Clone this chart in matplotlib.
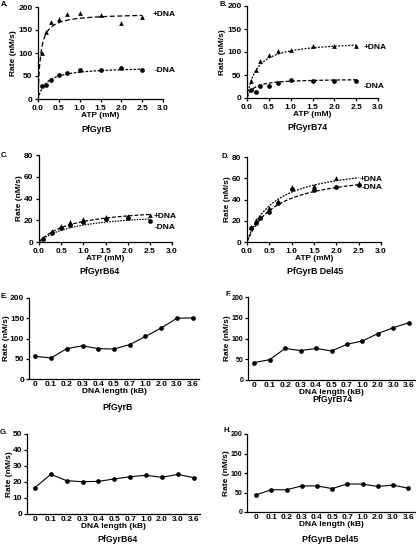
import numpy as np
import matplotlib
matplotlib.use("Agg")
import matplotlib.pyplot as plt

plt.rcParams['font.family'] = ['Liberation Sans', 'DejaVu Sans']
plt.rcParams['font.weight'] = 'bold'

W, H = 416, 547

# ---------------- Data ----------------
atp_mM = [0.1, 0.2, 0.3, 0.5, 0.7, 1.0, 1.5, 2.0, 2.5]
atp_c = [0.1, 0.3, 0.5, 0.7, 1.0, 1.5, 2.0, 2.5]

a_plus = [100, 145, 167, 174, 185, 188, 183, 165, 179]
a_minus = [29, 31, 42, 53, 56, 62, 64, 67, 62]
b_plus = [36, 61, 81, 94, 102, 105, 112, 114, 112]
b_minus = [18, 14, 27, 27, 32, 40, 37, 37, 37]
c_plus = [4, 10, 15, 18, 21, 23, 24, 25]
c_minus = [3, 8, 13, 16, 18, 21, 22, 19.5]
d_plus = [14, 21, 24, 32, 39, 52, 53, 60, 56]
d_minus = [13.5, 18, 23, 28, 37, 50, 49, 52, 54]

# Michaelis-Menten fit parameters (Vmax, Km)
fit_a = {'+DNA': (186, 0.06), '-DNA': (70, 0.2)}
fit_b = {'+DNA': (125, 0.22), '-DNA': (42, 0.15)}
fit_c = {'+DNA': (33, 0.75), '-DNA': (28, 0.8)}
fit_d = {'+DNA': (75, 0.6), '-DNA': (68, 0.65)}

dna_len = ['0', '0.1', '0.2', '0.3', '0.4', '0.5', '0.7', '1.0', '2.0', '3.0', '3.6']
e_rate = [56, 52, 75, 82, 75, 74, 85, 105, 126, 150, 151]
f_rate = [42, 49, 76, 71, 76, 70, 86, 94, 112, 126, 138]
g_rate = [16.5, 24.8, 20.8, 20.2, 20.4, 21.9, 23.3, 24.2, 22.9, 24.8, 22.7]
h_rate = [44, 57, 57, 67, 67, 60, 72, 71.5, 65.5, 69, 61]

fig = plt.figure(figsize=(W / 100, H / 100), dpi=100)


def ax_px(l, r, t, b):
    return fig.add_axes([l / W, 1 - b / H, (r - l) / W, (b - t) / H])


def ftext(x, y, s, **kw):
    fig.text(x / W, 1 - y / H, s, **kw)


FS = 6


def style(ax):
    for s in ['top', 'right']:
        ax.spines[s].set_visible(False)
    for s in ['left', 'bottom']:
        ax.spines[s].set_linewidth(0.9)
    ax.tick_params(direction='out', length=2.5, width=0.9, labelsize=FS, pad=1.5)
    for lab in ax.get_xticklabels() + ax.get_yticklabels():
        lab.set_fontweight('bold')


def mm(vmax, km, x):
    x = np.asarray(x, dtype=float)
    return vmax * x / (km + x)


def atp_panel(ax, xp, plus, xm, minus, fit, ymax, yticks, ls_plus, ls_minus, lab_pos):
    xs = np.linspace(0, 2.5, 200)
    ax.plot(xs, mm(*fit['+DNA'], xs), color='black', lw=0.9, dashes=ls_plus)
    ax.plot(xs, mm(*fit['-DNA'], xs), color='black', lw=0.9, dashes=ls_minus)
    ax.plot(xp, plus, '^', color='black', ms=3.4, mew=0)
    ax.plot(xm, minus, 'o', color='black', ms=3.4, mew=0)
    ax.set_xlim(0, 3.0)
    ax.set_ylim(0, ymax)
    ax.set_xticks([0, 0.5, 1.0, 1.5, 2.0, 2.5, 3.0])
    ax.set_xticklabels(['0.0', '0.5', '1.0', '1.5', '2.0', '2.5', '3.0'])
    ax.set_yticks(yticks)
    ax.set_xlabel('ATP (mM)', fontsize=FS, fontweight='bold', labelpad=0.5)
    ax.set_ylabel('Rate (nM/s)', fontsize=FS, fontweight='bold', labelpad=1)
    (px, py), (mx, my) = lab_pos
    ax.text(px, py, '+DNA', fontsize=FS, fontweight='bold', va='center', ha='left', clip_on=False)
    ax.text(mx, my, '-DNA', fontsize=FS, fontweight='bold', va='center', ha='left', clip_on=False)
    style(ax)


def len_panel(ax, vals, ymax, yticks, xl, ytick_fs=FS):
    x = np.arange(len(dna_len))
    ax.plot(x, vals, '-o', color='black', lw=0.8, ms=3.4, mew=0)
    ax.set_xticks(x)
    ax.set_xticklabels(dna_len)
    ax.set_xlim(*xl)
    ax.set_ylim(0, ymax)
    ax.set_yticks(yticks)
    ax.set_xlabel('DNA length (kB)', fontsize=FS, fontweight='bold', labelpad=0)
    ax.set_ylabel('Rate (nM/s)', fontsize=FS, fontweight='bold', labelpad=0)
    style(ax)
    ax.tick_params(axis='x', length=0)
    ax.tick_params(axis='y', labelsize=ytick_fs, pad=1)


# A
axA = ax_px(38, 163, 7, 99)
atp_panel(axA, atp_mM, a_plus, atp_mM, a_minus, fit_a, 200, [0, 50, 100, 150, 200],
          (4, 2), (2, 1.2), ((2.76, 184), (2.8, 61)))
# B
axB = ax_px(247, 378, 6, 98)
atp_panel(axB, atp_mM, b_plus, atp_mM, b_minus, fit_b, 200, [0, 50, 100, 150, 200],
          (1.5, 1.2), (3, 1.5), ((2.66, 109), (2.68, 26)))
# C
axC = ax_px(39, 172, 155, 242)
atp_panel(axC, atp_c, c_plus, atp_c, c_minus, fit_c, 80, [0, 20, 40, 60, 80],
          (3, 1.5), (1.2, 1.0), ((2.59, 23), (2.62, 13)))
# D
axD = ax_px(247, 381, 157, 242)
atp_panel(axD, atp_mM, d_plus, atp_mM, d_minus, fit_d, 80, [0, 20, 40, 60, 80],
          (1.5, 1.0), (3, 1.5), ((2.53, 59), (2.56, 51)))

# E-H
axE = ax_px(29, 199, 298, 379)
len_panel(axE, e_rate, 200, [0, 50, 100, 150, 200], (-0.4, 10.4))
axF = ax_px(248, 415, 297, 380)
len_panel(axF, f_rate, 200, [0, 50, 100, 150, 200], (-0.4, 10.4), ytick_fs=5)
axG = ax_px(27, 200, 434, 514)
len_panel(axG, g_rate, 50, [0, 10, 20, 30, 40, 50], (-0.5, 10.4))
axH = ax_px(247, 415, 434, 512)
len_panel(axH, h_rate, 200, [0, 50, 100, 150, 200], (-0.6, 10.45), ytick_fs=5)

# Panel letters (right edge positions)
for (x, y, s) in [(8, 5, 'A.'), (227, 5, 'B.'), (8, 156, 'C.'), (229, 157, 'D.'),
                  (8, 296, 'E.'), (231, 294, 'F.'), (8, 432, 'G.'), (231, 430, 'H.')]:
    ftext(x, y, s, fontsize=5.5, fontweight='bold', va='center', ha='right')

# Subtitles
for (x, y, s) in [(97, 129, 'PfGyrB'), (307, 128, 'PfGyrB74'), (100, 271, 'PfGyrB64'),
                  (315, 271, 'PfGyrB Del45'), (118, 408, 'PfGyrB'), (332, 400, 'PfGyrB74'),
                  (118, 540, 'PfGyrB64'), (330, 539, 'PfGyrB Del45')]:
    ftext(x, y, s, fontsize=6.3, fontweight='bold', va='center', ha='center')

fig.savefig('out.png', dpi=100)
